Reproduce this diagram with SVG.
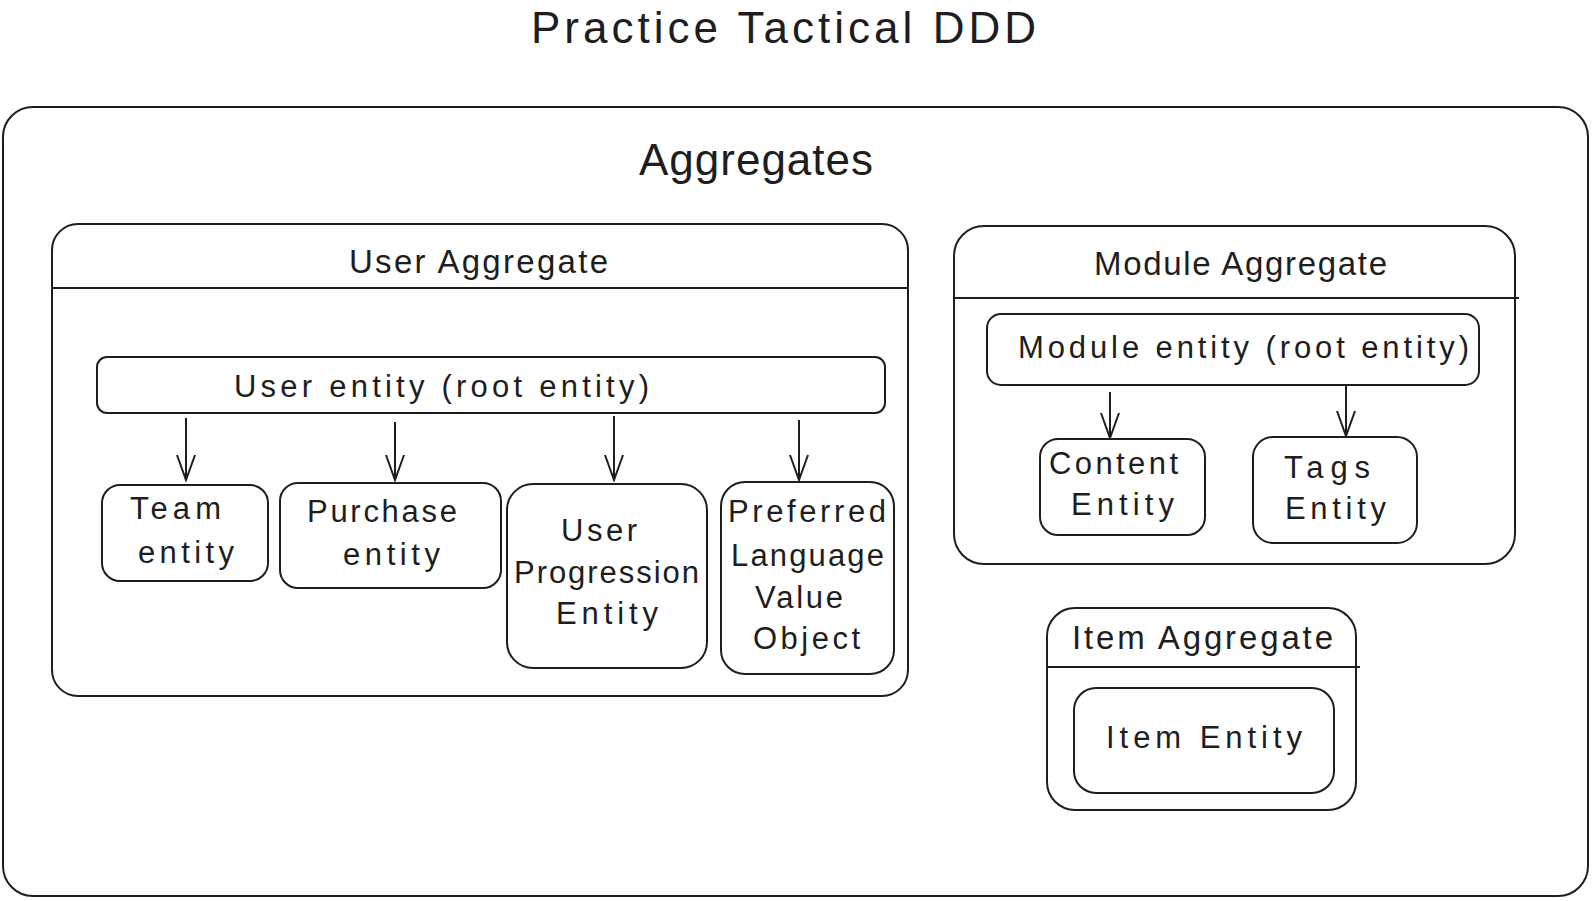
<svg xmlns="http://www.w3.org/2000/svg" width="1596" height="901" viewBox="0 0 1596 901">
<defs>
<style>
.box{fill:none;stroke:#1e1e1e;stroke-width:2}
.ln{stroke:#1e1e1e;stroke-width:2;fill:none}
text{font-family:"Liberation Sans",Arial,sans-serif;fill:#1e1e1e}
.t1{font-size:44px}
.t2{font-size:33px}
.t3{font-size:31px}
</style>
<marker id="ah" markerUnits="userSpaceOnUse" markerWidth="28" markerHeight="22" refX="26" refY="10" orient="auto" viewBox="0 0 28 20">
<path d="M1,1 L26,10 L1,19" fill="none" stroke="#1e1e1e" stroke-width="2"/>
</marker>
</defs>
<rect width="1596" height="901" fill="#ffffff"/>
<g id="title"><text class="t1" x="531" y="43" textLength="505">Practice Tactical DDD</text></g>
<g id="aggregates">
<rect class="box" x="3" y="107" width="1585" height="789" rx="30"/>
<text class="t1" x="639" y="175" textLength="234">Aggregates</text>
</g>
<g id="user-aggregate">
<rect class="box" x="52" y="224" width="856" height="472" rx="26"/>
<line class="ln" x1="52" y1="288" x2="908" y2="288"/>
<text class="t2" x="349" y="273" textLength="259">User Aggregate</text>
</g>
<g id="user-entity">
<rect class="box" x="97" y="357" width="788" height="56" rx="10"/>
<text class="t3" x="234" y="397" textLength="415">User entity (root entity)</text>
</g>
<g id="team-entity">
<rect class="box" x="102" y="485" width="166" height="96" rx="18"/>
<text class="t3" x="130" y="519" textLength="91">Team</text>
<text class="t3" x="138" y="563" textLength="96">entity</text>
</g>
<g id="purchase-entity">
<rect class="box" x="280" y="483" width="221" height="105" rx="18"/>
<text class="t3" x="307" y="522" textLength="150">Purchase</text>
<text class="t3" x="343" y="565" textLength="97">entity</text>
</g>
<g id="user-progression-entity">
<rect class="box" x="507" y="484" width="200" height="184" rx="26"/>
<text class="t3" x="561" y="541" textLength="76">User</text>
<text class="t3" x="514" y="583" textLength="185">Progression</text>
<text class="t3" x="556" y="624" textLength="102">Entity</text>
</g>
<g id="preferred-language">
<rect class="box" x="721" y="482" width="173" height="192" rx="24"/>
<text class="t3" x="728" y="522" textLength="158">Preferred</text>
<text class="t3" x="731" y="566" textLength="153">Language</text>
<text class="t3" x="755" y="608" textLength="88">Value</text>
<text class="t3" x="753" y="649" textLength="107">Object</text>
</g>
<g id="module-aggregate">
<rect class="box" x="954" y="226" width="561" height="338" rx="30"/>
<line class="ln" x1="954" y1="298" x2="1519" y2="298"/>
<text class="t2" x="1094" y="275" textLength="293">Module Aggregate</text>
</g>
<g id="module-entity">
<rect class="box" x="987" y="314" width="492" height="71" rx="14"/>
<text class="t3" x="1018" y="358" textLength="451">Module entity (root entity)</text>
</g>
<g id="content-entity">
<rect class="box" x="1040" y="439" width="165" height="96" rx="18"/>
<text class="t3" x="1049" y="474" textLength="129">Content</text>
<text class="t3" x="1071" y="515" textLength="103">Entity</text>
</g>
<g id="tags-entity">
<rect class="box" x="1253" y="437" width="164" height="106" rx="20"/>
<text class="t3" x="1284" y="478" textLength="86">Tags</text>
<text class="t3" x="1285" y="519" textLength="101">Entity</text>
</g>
<g id="item-aggregate">
<rect class="box" x="1047" y="608" width="309" height="202" rx="28"/>
<line class="ln" x1="1047" y1="667" x2="1360" y2="667"/>
<text class="t2" x="1072" y="649" textLength="261">Item Aggregate</text>
</g>
<g id="item-entity">
<rect class="box" x="1074" y="688" width="260" height="105" rx="22"/>
<text class="t3" x="1106" y="748" textLength="196">Item Entity</text>
</g>
<g id="connectors">
<line class="ln" x1="186" y1="418" x2="186" y2="480" marker-end="url(#ah)"/>
<line class="ln" x1="395" y1="422" x2="395" y2="480" marker-end="url(#ah)"/>
<line class="ln" x1="614" y1="416" x2="614" y2="480" marker-end="url(#ah)"/>
<line class="ln" x1="799" y1="420" x2="799" y2="480" marker-end="url(#ah)"/>
<line class="ln" x1="1110" y1="392" x2="1110" y2="438" marker-end="url(#ah)"/>
<line class="ln" x1="1346" y1="386" x2="1346" y2="436" marker-end="url(#ah)"/>
</g>
</svg>
